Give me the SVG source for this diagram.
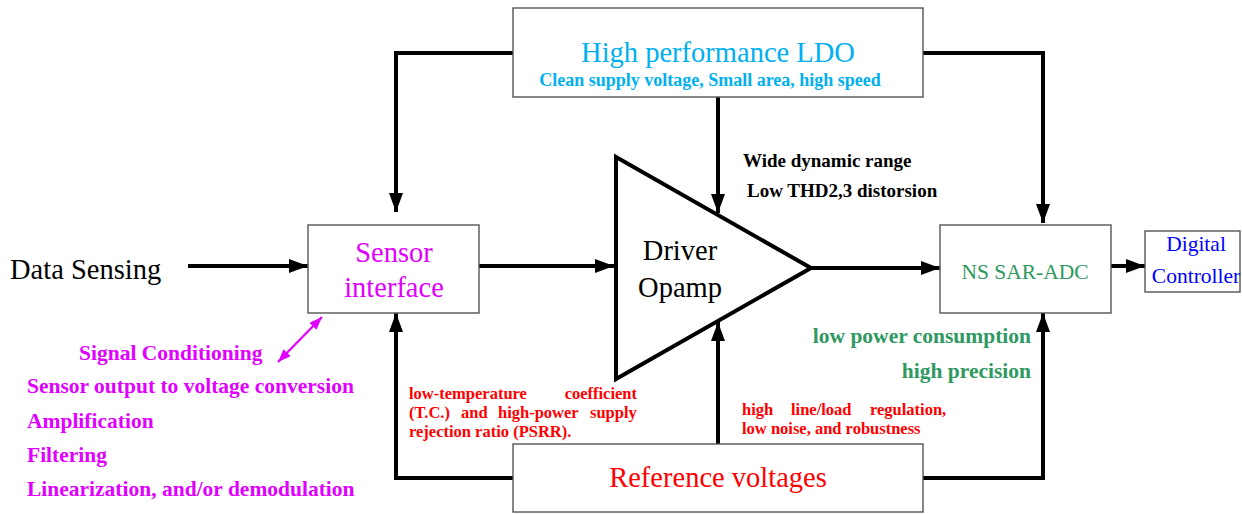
<svg xmlns="http://www.w3.org/2000/svg" width="1242" height="514" viewBox="0 0 1242 514">
<defs>
<style>
.box{fill:#fff;stroke:#555;stroke-width:1.4}
.w{fill:none;stroke:#000;stroke-width:4}
.t{font-family:'Liberation Serif','Times New Roman','DejaVu Serif',serif}
.b{font-family:'Liberation Serif','Times New Roman','DejaVu Serif',serif;font-weight:bold}
.mag{fill:#e100ff}
.grn{fill:#2e9960}
.red{fill:#ff0000}
</style>
<marker id="ah" markerUnits="userSpaceOnUse" markerWidth="20" markerHeight="14" refX="19" refY="7" orient="auto">
<path d="M0,0 L19,7 L0,14 z" fill="#000"/>
</marker>
<marker id="mh" markerUnits="userSpaceOnUse" markerWidth="14" markerHeight="10" refX="13" refY="5" orient="auto-start-reverse">
<path d="M0,0 L13,5 L0,10 z" fill="#e100ff"/>
</marker>
</defs>
<rect width="1242" height="514" fill="#fff"/>

<g id="connectors">
<polyline class="w" points="513,53 396,53 396,212" marker-end="url(#ah)"/>
<polyline class="w" points="923,53 1043,53 1043,223" marker-end="url(#ah)"/>
<line class="w" x1="718" y1="97" x2="718" y2="213" marker-end="url(#ah)"/>
<line class="w" x1="188" y1="266" x2="308" y2="266" marker-end="url(#ah)"/>
<line class="w" x1="479" y1="266" x2="614" y2="266" marker-end="url(#ah)"/>
<line class="w" x1="811" y1="268" x2="940" y2="268" marker-end="url(#ah)"/>
<line class="w" x1="1111" y1="266" x2="1145" y2="266" marker-end="url(#ah)"/>
<polyline class="w" points="513,478 396,478 396,313" marker-end="url(#ah)"/>
<polyline class="w" points="923,478 1043,478 1043,313" marker-end="url(#ah)"/>
<line class="w" x1="718" y1="444" x2="718" y2="322" marker-end="url(#ah)"/>
<line x1="278" y1="362" x2="322" y2="317" stroke="#e100ff" stroke-width="2.2" marker-start="url(#mh)" marker-end="url(#mh)"/>
</g>

<g id="ldo">
<rect class="box" x="513" y="8" width="410" height="89"/>
<text class="t" x="718" y="62" font-size="28.5" fill="#00b0f0" text-anchor="middle">High performance LDO</text>
<text class="b" x="710" y="86" font-size="18" fill="#00b0f0" text-anchor="middle">Clean supply voltage, Small area, high speed</text>
</g>

<g id="data-sensing">
<text class="t" x="10" y="279" font-size="28.5" fill="#000">Data Sensing</text>
</g>

<g id="sensor-interface">
<rect class="box" x="308" y="225" width="171" height="88"/>
<text class="t mag" x="394" y="262" font-size="28.5" text-anchor="middle">Sensor</text>
<text class="t mag" x="394" y="297" font-size="28.5" text-anchor="middle">interface</text>
</g>

<g id="signal-conditioning">
<text class="b mag" x="79" y="360" font-size="21.5">Signal Conditioning</text>
<text class="b mag" x="27" y="393" font-size="21.5">Sensor output to voltage conversion</text>
<text class="b mag" x="27" y="428" font-size="21.5">Amplification</text>
<text class="b mag" x="27" y="462" font-size="21.5">Filtering</text>
<text class="b mag" x="27" y="496" font-size="21.5">Linearization, and/or demodulation</text>
</g>

<g id="driver-opamp">
<polygon points="616,157 811,268 616,379" fill="#fff" stroke="#000" stroke-width="4" stroke-linejoin="miter"/>
<text class="t" x="680" y="260" font-size="28.5" fill="#000" text-anchor="middle">Driver</text>
<text class="t" x="680" y="297" font-size="28.5" fill="#000" text-anchor="middle">Opamp</text>
</g>

<g id="opamp-notes">
<text class="b" x="743" y="167" font-size="19" fill="#000">Wide dynamic range</text>
<text class="b" x="747" y="197" font-size="19" fill="#000">Low THD2,3 distorsion</text>
</g>

<g id="ns-sar-adc">
<rect class="box" x="940" y="225" width="171" height="88"/>
<text class="t grn" x="1025" y="279" font-size="21.5" text-anchor="middle">NS SAR-ADC</text>
</g>

<g id="adc-notes">
<text class="b grn" x="1031" y="343" font-size="21.5" text-anchor="end">low power consumption</text>
<text class="b grn" x="1031" y="378" font-size="21.5" text-anchor="end">high precision</text>
</g>

<g id="digital-controller">
<rect class="box" x="1145" y="231" width="95" height="61"/>
<text class="t" x="1196" y="251" font-size="21.5" fill="#0000ff" text-anchor="middle">Digital</text>
<text class="t" x="1196" y="283" font-size="21.5" fill="#0000ff" text-anchor="middle">Controller</text>
</g>

<g id="reference-voltages">
<rect class="box" x="513" y="444" width="410" height="68"/>
<text class="t red" x="718" y="487" font-size="28.5" text-anchor="middle">Reference voltages</text>
</g>

<g id="ref-notes-left">
<text class="b red" x="409" y="399" font-size="16.5">low-temperature</text>
<text class="b red" x="637" y="399" font-size="16.5" text-anchor="end">coefficient</text>
<text class="b red" font-size="16.5" y="418"><tspan x="409">(T.C.)</tspan><tspan x="461">and</tspan><tspan x="498">high-power</tspan><tspan x="590">supply</tspan></text>
<text class="b red" x="409" y="437" font-size="16.5">rejection ratio (PSRR).</text>
</g>

<g id="ref-notes-right">
<text class="b red" font-size="16.5" y="415"><tspan x="742">high</tspan><tspan x="791">line/load</tspan><tspan x="870">regulation,</tspan></text>
<text class="b red" x="742" y="434" font-size="16.5">low noise, and robustness</text>
</g>
</svg>
